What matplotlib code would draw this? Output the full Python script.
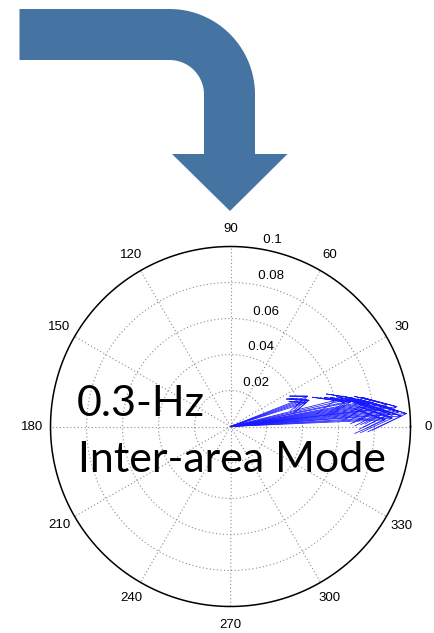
import numpy as np
import matplotlib
matplotlib.use("Agg")
import matplotlib.pyplot as plt
from matplotlib.path import Path
from matplotlib.patches import PathPatch

# ---- data (compass vectors) ----
vec_angles_deg = [21.5, 19.5, 17.5, 20.5, 18.5,
                  14.0, 12.0, 13.0, 10.5, 11.5,
                  9.5, 8.5, 7.5, 9.0, 8.0, 6.5, 5.5, 4.2, 6.0, 5.0,
                  7.0, 3.5, 4.5, 3.0, 2.5, 10.0, 6.8]
vec_mags = [0.046, 0.045, 0.044, 0.043, 0.046,
            0.060, 0.065, 0.070, 0.072, 0.068,
            0.080, 0.082, 0.085, 0.078, 0.088, 0.090, 0.092, 0.098, 0.086, 0.094,
            0.083, 0.095, 0.089, 0.090, 0.086, 0.076, 0.093]
r_ticks = [0.02, 0.04, 0.06, 0.08, 0.1]
r_tick_labels = ["0.02", "0.04", "0.06", "0.08", "0.1"]
theta_ticks = [0, 30, 60, 90, 120, 150, 180, 210, 240, 270, 300, 330]
title_lines = ["0.3-Hz", "Inter-area Mode"]

W, H = 434, 633
fig = plt.figure(figsize=(W / 100, H / 100), dpi=100)

# ---- polar compass axes (MATLAB style, drawn in cartesian data coords) ----
cx, cy, Rpx = 230.5, 426.5, 180.0
rmax = 0.1
half_px = 200.0
lim = rmax * half_px / Rpx
ax = fig.add_axes([(cx - half_px) / W, (H - cy - half_px) / H, 2 * half_px / W, 2 * half_px / H])
ax.set_xlim(-lim, lim)
ax.set_ylim(-lim, lim)
ax.axis("off")

grid_kw = dict(color="#8c8c8c", lw=0.8, ls=(0, (1, 2.2)), zorder=1)
t = np.linspace(0, 2 * np.pi, 400)
for r in r_ticks[:-1]:
    ax.plot(r * np.cos(t), r * np.sin(t), **grid_kw)
for a in theta_ticks:
    ar = np.deg2rad(a)
    ax.plot([0, rmax * np.cos(ar)], [0, rmax * np.sin(ar)], **grid_kw)
ax.plot(rmax * np.cos(t), rmax * np.sin(t), color="black", lw=1.1, zorder=2)

lab_font = dict(family="Liberation Sans", fontsize=9.5, color="black")
for a in theta_ticks:
    ar = np.deg2rad(a)
    ax.text(1.1 * rmax * np.cos(ar), 1.1 * rmax * np.sin(ar), str(a),
            ha="center", va="center", **lab_font)
c82, s82 = np.cos(np.deg2rad(82)), np.sin(np.deg2rad(82))
for r, lab in zip(r_ticks, r_tick_labels):
    rr = r + rmax / 100
    ax.text(rr * c82, rr * s82, "  " + lab, ha="left", va="bottom", **lab_font)

# compass arrows: shaft plus MATLAB-style head (0.8 r, +-0.08 r)
for ang, m in zip(vec_angles_deg, vec_mags):
    a = np.deg2rad(ang)
    ca, sa = np.cos(a), np.sin(a)
    lx = np.array([0, 1, 0.8, 1, 0.8]) * m
    ly = np.array([0, 0, 0.08, 0, -0.08]) * m
    x = lx * ca - ly * sa
    y = lx * sa + ly * ca
    ax.plot(x, y, color="#1a1aff", lw=0.55, zorder=3)

# ---- overlay in pixel coordinates: big bent arrow + annotation text ----
ov = fig.add_axes([0, 0, 1, 1])
ov.set_xlim(0, W)
ov.set_ylim(H, 0)
ov.axis("off")
ov.patch.set_alpha(0)

acx, acy, Ro, Ri = 169.5, 94.5, 85.5, 34.5
outer = np.linspace(np.pi / 2, 0, 40)
inner = np.linspace(0, np.pi / 2, 40)
pts = [(19.5, acy - Ro)]
pts += [(acx + Ro * np.cos(q), acy - Ro * np.sin(q)) for q in outer]
pts += [(acx + Ro, 154), (287.5, 154), (230, 211), (172, 154), (acx + Ri, 154)]
pts += [(acx + Ri * np.cos(q), acy - Ri * np.sin(q)) for q in inner]
pts += [(19.5, acy - Ri), (19.5, acy - Ro)]
codes = [Path.MOVETO] + [Path.LINETO] * (len(pts) - 2) + [Path.CLOSEPOLY]
ov.add_patch(PathPatch(Path(pts, codes), facecolor="#4674a2", edgecolor="none"))

big_font = dict(family=["Lato", "DejaVu Sans"], fontsize=31, color="black")
ov.text(77, 416.5, title_lines[0], ha="left", va="baseline", **big_font)
ov.text(78, 471.5, title_lines[1], ha="left", va="baseline", **big_font)

fig.savefig("out.png", dpi=100)
